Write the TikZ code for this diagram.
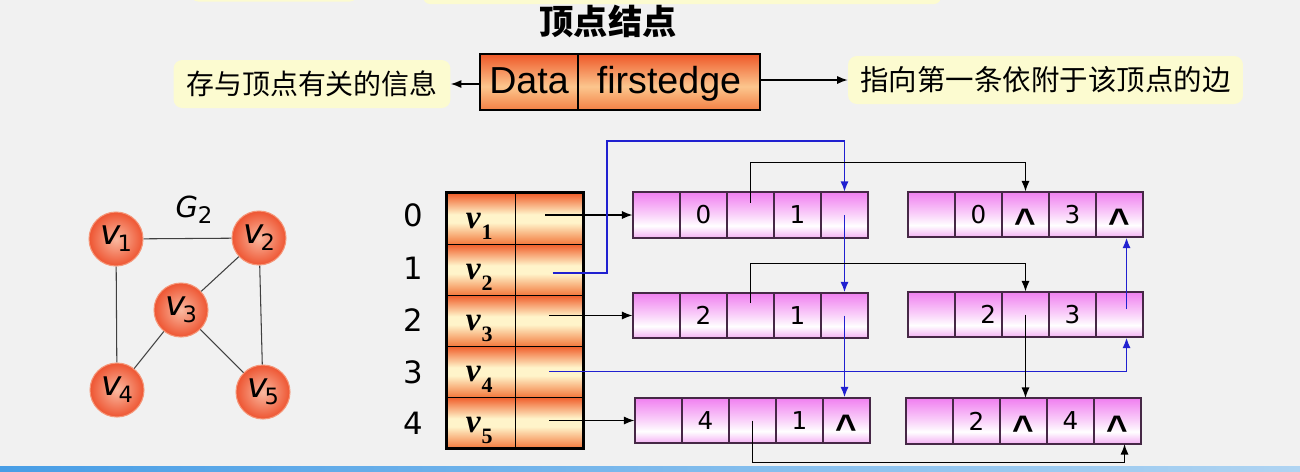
\documentclass[tikz,border=0pt]{standalone}
\usepackage{fontspec}
\setmainfont{DejaVu Sans}
\newfontfamily\cjk{Noto Sans CJK SC}
\newfontfamily\serifbi{Liberation Serif}
\newfontfamily\arial{Liberation Sans}
\usetikzlibrary{arrows.meta,calc}

\definecolor{bgc}{RGB}{241,241,241}
\definecolor{ybg}{RGB}{252,251,208}
\definecolor{blueln}{RGB}{32,32,208}
\definecolor{edgecol}{RGB}{70,40,70}
\definecolor{pkT}{RGB}{240,128,240}
\definecolor{pkB}{RGB}{244,178,244}
\definecolor{orT}{RGB}{240,92,40}
\definecolor{orB}{RGB}{243,122,62}
\definecolor{orM}{RGB}{255,244,202}
\definecolor{dT}{RGB}{238,88,40}
\definecolor{dM}{RGB}{252,198,142}
\definecolor{dB}{RGB}{243,128,68}
\definecolor{cIn}{RGB}{250,185,160}
\definecolor{cOut}{RGB}{238,85,50}
\definecolor{cBd}{RGB}{245,150,120}
\definecolor{barL}{RGB}{72,158,230}
\definecolor{barR}{RGB}{175,212,242}

\pgfdeclareverticalshading{pinkcell}{100bp}{color(0bp)=(pkB); color(25bp)=(pkB); color(38bp)=(white); color(50bp)=(pkT!35!white); color(75bp)=(pkT); color(100bp)=(pkT)}
\pgfdeclareverticalshading{orcell}{100bp}{color(0bp)=(orB); color(25bp)=(orB); color(46bp)=(orM); color(54bp)=(orM); color(75bp)=(orT); color(100bp)=(orT)}
\pgfdeclareverticalshading{databox}{100bp}{color(0bp)=(dB); color(25bp)=(dB); color(46bp)=(dM); color(75bp)=(dT); color(100bp)=(dT)}

\newcommand\crt{\raisebox{-11.5pt}[0pt][0pt]{\arial\bfseries\fontsize{21}{21}\selectfont\textasciicircum}}
\newcommand\cv[1]{{\fontsize{19.5}{20}\selectfont\itshape v\kern-1.5pt\raisebox{-4pt}{\upshape\fontsize{12.8}{12}\selectfont #1}}}
\newcommand\tv[1]{{\serifbi\bfseries\fontsize{19}{19}\selectfont\itshape v\kern0.5pt\raisebox{-6.2pt}{\upshape\fontsize{12.5}{12}\selectfont #1}}}

\newcommand\mkedge[8]{%
 \node[ecell] (#1-1) at (#2+23.5,#3) {#4};
 \node[ecell] (#1-2) at (#2+70.5,#3) {#5};
 \node[ecell] (#1-3) at (#2+117.5,#3) {#6};
 \node[ecell] (#1-4) at (#2+164.5,#3) {#7};
 \node[ecell] (#1-5) at (#2+211.5,#3) {#8};
 \draw[line width=0.8pt, draw=edgecol] (#1-1.north west) rectangle (#1-5.south east);
}

\tikzset{
 ecell/.style={draw=edgecol, line width=0.6pt, shade, shading=pinkcell, minimum width=0.94cm, minimum height=0.9cm, inner sep=0pt, font=\fontsize{14}{14}\selectfont},
 tcell/.style={draw=black, line width=0.5pt, shade, shading=orcell, minimum width=1.36cm, minimum height=1.02cm, inner sep=0pt},
 tlab/.style={inner sep=0pt},
 dbox/.style={draw=black, line width=0.7pt, shade, shading=databox, minimum height=1.12cm, inner sep=0pt, text height=16pt, text depth=2.4pt, font=\arial\fontsize{21.4}{22}\selectfont},
 vert/.style={circle, draw=cBd, line width=0.6pt, inner color=cIn, outer color=cOut, minimum size=1.08cm, inner sep=0pt},
 gedge/.style={draw=black!75, line width=0.6pt},
 ptr/.style={line width=0.75pt, -{Latex[length=6pt,width=4.6pt]}},
 bptr/.style={ptr, draw=blueln, color=blueln, line width=1.05pt},
 ybox/.style={fill=ybg, rounded corners=5pt, inner sep=0pt, minimum height=0.96cm},
 idx/.style={inner sep=0pt, font=\fontsize{17.5}{18}\selectfont},
}

\begin{document}
\begin{tikzpicture}[x=0.02cm,y=-0.02cm]
\useasboundingbox (0,0) rectangle (1300,471);
\fill[bgc] (0,0) rectangle (1300,471);
% partial boxes at top edge
\fill[ybg, rounded corners=4pt] (191,-20) rectangle (357,1.5);
\fill[ybg, rounded corners=4pt] (423,-20) rectangle (941,4);
% bottom bar
\shade[left color=barL, right color=barR] (0,466) rectangle (1300,471);

% title
\node[inner sep=0pt, font=\cjk\bfseries\fontsize{19.5}{20}\selectfont] (title) at (608,21) {顶点结点};

% vertex node format
\node[dbox, minimum width=1.96cm] (DA) at (529,82) {Data};
\node[dbox, minimum width=3.64cm] (FE) at (669,82) {firstedge};
\node[ybox, minimum width=5.54cm, font=\cjk\fontsize{15.9}{16}\selectfont] (L) at (312,84) {存与顶点有关的信息};
\node[ybox, minimum width=7.9cm, font=\cjk\fontsize{16.2}{17}\selectfont] (R) at (1045.5,80) {指向第一条依附于该顶点的边};
\draw[ptr] (DA.west |- L.east) -- (L.east);
\draw[ptr] (FE.east |- R.west) -- (R.west);

% graph G2
\node[inner sep=0pt] (G) at (194,210) {{\fontsize{16.5}{17}\selectfont\itshape G\raisebox{-3.5pt}{\upshape\fontsize{13}{13}\selectfont 2}}};
\node[vert] (V1) at (116,239) {\cv{1}};
\node[vert] (V2) at (259,238) {\cv{2}};
\node[vert] (V3) at (181,310) {\cv{3}};
\node[vert] (V4) at (117,390) {\cv{4}};
\node[vert] (V5) at (263,392) {\cv{5}};
\draw[gedge] (V1) -- (V2);
\draw[gedge] (V1) -- (V4);
\draw[gedge] (V2) -- (V3);
\draw[gedge] (V2) -- (V5);
\draw[gedge] (V3) -- (V4);
\draw[gedge] (V3) -- (V5);

% vertex table
\node[tcell] (T0a) at (481,218.5) {};
\node[tcell] (T0b) at (549,218.5) {};
\node[tcell] (T1a) at (481,269.5) {};
\node[tcell] (T1b) at (549,269.5) {};
\node[tcell] (T2a) at (481,320.5) {};
\node[tcell] (T2b) at (549,320.5) {};
\node[tcell] (T3a) at (481,371.5) {};
\node[tcell] (T3b) at (549,371.5) {};
\node[tcell] (T4a) at (481,422.5) {};
\node[tcell] (T4b) at (549,422.5) {};
\draw[line width=1.5pt] (T0a.north west) rectangle (T4b.south east);
\node[tlab] (L0) at ([xshift=-1pt,yshift=-4.5pt]T0a.center) {\tv{1}};
\node[tlab] (L1) at ([xshift=-1pt,yshift=-4.5pt]T1a.center) {\tv{2}};
\node[tlab] (L2) at ([xshift=-1pt,yshift=-4.5pt]T2a.center) {\tv{3}};
\node[tlab] (L3) at ([xshift=-1pt,yshift=-4.5pt]T3a.center) {\tv{4}};
\node[tlab] (L4) at ([xshift=-1pt,yshift=-4.5pt]T4a.center) {\tv{5}};
\node[idx] (I0) at (413,215) {0};
\node[idx] (I1) at (413,268) {1};
\node[idx] (I2) at (413,320) {2};
\node[idx] (I3) at (413,372) {3};
\node[idx] (I4) at (413,423) {4};

% edge nodes
\mkedge{R0a}{633}{215}{}{0}{}{1}{}
\mkedge{R0b}{908}{214.5}{}{0}{\crt}{3}{\crt}
\mkedge{R2a}{633}{315.5}{}{2}{}{1}{}
\mkedge{R2b}{908}{314.5}{}{\kern11pt 2}{}{3}{}
\mkedge{R4a}{635}{420.5}{}{4}{}{1}{\crt}
\mkedge{R4b}{906}{421}{}{2}{\crt}{4}{\crt}

% pointers from the vertex table
\draw[ptr] ([xshift=-2pt]T0b.center |- R0a-1.west) -- (R0a-1.west);
\draw[bptr] ([xshift=2pt,yshift=-2pt]T1b.center) -| (607,141) -| (R0a-5.north);
\draw[ptr] (T2b.center |- R2a-1.west) -- (R2a-1.west);
\draw[bptr] (T3b.center) -| ([xshift=4pt]R2b-5.south);
\draw[ptr] (T4b.center |- R4a-1.west) -- (R4a-1.west);

% pointers between edge nodes
\draw[ptr] ([yshift=7pt]R0a-3.center) -- ++(0,-40) -| (R0b-3.north);
\draw[bptr] (R0a-5.center) -- (R2a-5.north);
\draw[ptr] ([yshift=7pt]R2a-3.center) -- ++(0,-40) -| (R2b-3.north);
\draw[bptr] (R2a-5.center) -- (R2a-5.center |- R4a-5.north);
\draw[bptr] ([xshift=4pt,yshift=3pt]R2b-5.center) -- ([xshift=4pt]R0b-5.south);
\draw[ptr] (R2b-3.center) -- (R2b-3.center |- R4b-3.north);
\draw[ptr] (R4a-3.center) -- ++(0,42) -| ([xshift=4pt]R4b-5.south);
\end{tikzpicture}
\end{document}
